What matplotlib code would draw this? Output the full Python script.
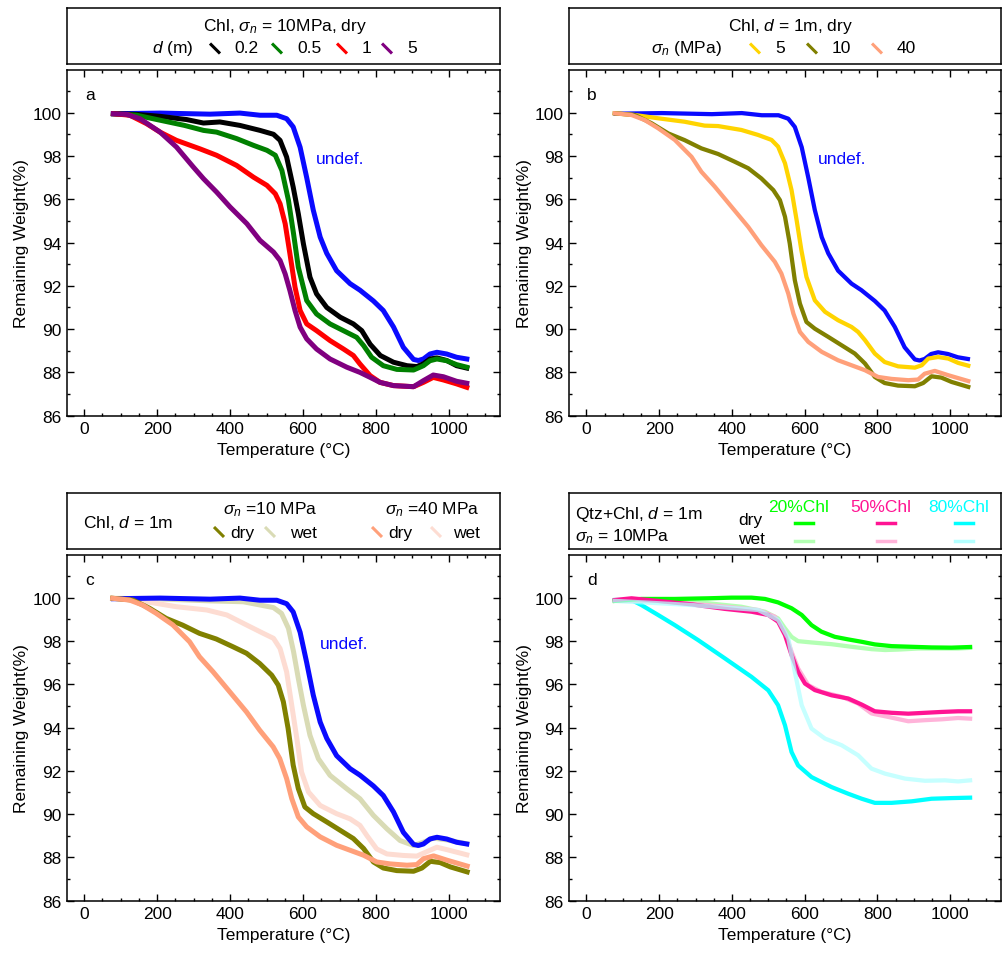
"""
TGA curves (remaining weight vs temperature) for chlorite gouges, four panels.
"""

import matplotlib
matplotlib.use("Agg")
import matplotlib.pyplot as plt
from matplotlib.ticker import MultipleLocator

plt.rcParams['font.family'] = ['Liberation Sans', 'DejaVu Sans']
plt.rcParams['mathtext.fontset'] = 'custom'
plt.rcParams['mathtext.rm'] = 'Liberation Sans'
plt.rcParams['mathtext.it'] = 'Liberation Sans:italic'
plt.rcParams['font.size'] = 12.5
plt.rcParams['lines.solid_joinstyle'] = 'round'

# --- data (temperature in C, weight in %) ---
t_undef = [80, 208, 345, 427, 482, 528, 555, 573, 592, 610, 628, 647, 665, 692, 729, 756,
           793, 820, 848, 875, 903, 916, 930, 948, 967, 994, 1021, 1049]
w_undef = [99.95, 99.98, 99.93, 99.98, 99.88, 99.88, 99.72, 99.34, 98.4, 97.0, 95.5, 94.25,
           93.5, 92.7, 92.1, 91.8, 91.3, 90.86, 90.1, 89.16, 88.6, 88.55, 88.62, 88.85,
           88.93, 88.85, 88.7, 88.62]

# panel a: d = 0.2, 0.5, 1, 5 m
t_d02 = [80, 144, 208, 281, 327, 372, 427, 482, 519, 537, 555, 573, 587, 601, 619, 637, 665,
         702, 738, 761, 784, 812, 848, 885, 912, 930, 948, 967, 994, 1021, 1049]
w_d02 = [99.95, 99.92, 99.83, 99.68, 99.52, 99.57, 99.41, 99.18, 99.0, 98.72, 97.95, 96.56,
         95.33, 93.94, 92.4, 91.63, 91.0, 90.55, 90.24, 89.93, 89.3, 88.78, 88.47, 88.31,
         88.27, 88.4, 88.62, 88.67, 88.55, 88.31, 88.2]
t_d05 = [80, 144, 208, 275, 327, 363, 418, 464, 501, 524, 542, 560, 574, 587, 610, 637, 674,
         720, 747, 766, 788, 820, 857, 903, 930, 948, 967, 994, 1021, 1049]
w_d05 = [99.95, 99.88, 99.65, 99.41, 99.18, 99.1, 98.8, 98.49, 98.26, 98.03, 97.33, 95.95,
         94.4, 92.86, 91.32, 90.7, 90.24, 89.85, 89.62, 89.24, 88.7, 88.31, 88.14, 88.11,
         88.31, 88.54, 88.62, 88.54, 88.36, 88.24]
t_d1 = [80, 125, 171, 208, 253, 317, 363, 418, 464, 501, 524, 537, 551, 564, 578, 592, 610,
        637, 674, 711, 738, 756, 784, 811, 848, 903, 930, 957, 985, 1021, 1049]
w_d1 = [99.95, 99.88, 99.49, 99.1, 98.72, 98.33, 98.03, 97.56, 97.02, 96.64, 96.25, 95.79,
        94.87, 93.48, 91.94, 90.86, 90.24, 89.93, 89.47, 89.08, 88.78, 88.39, 87.85, 87.54,
        87.39, 87.34, 87.54, 87.77, 87.65, 87.47, 87.31]
t_d5 = [80, 116, 153, 208, 253, 299, 327, 363, 400, 446, 482, 519, 537, 551, 564, 578, 592,
        610, 637, 674, 720, 756, 784, 811, 848, 903, 930, 957, 985, 1021, 1049]
w_d5 = [99.95, 99.92, 99.72, 99.1, 98.41, 97.49, 96.95, 96.33, 95.64, 94.87, 94.1, 93.56,
        93.17, 92.55, 91.78, 90.86, 90.09, 89.55, 89.08, 88.62, 88.24, 88.0, 87.77, 87.54,
        87.39, 87.34, 87.62, 87.88, 87.8, 87.59, 87.5]

# panel b: sigma_n = 5, 10, 40 MPa (dry, d = 1 m)
t_s5 = [78, 133, 197, 270, 325, 362, 426, 472, 509, 527, 546, 564, 578, 591, 605, 628, 656,
        692, 729, 747, 766, 793, 820, 857, 903, 922, 940, 967, 995, 1022, 1050]
w_s5 = [99.97, 99.89, 99.74, 99.58, 99.4, 99.38, 99.2, 98.97, 98.74, 98.43, 97.66, 96.42,
        95.03, 93.65, 92.41, 91.33, 90.8, 90.41, 90.1, 89.87, 89.49, 88.87, 88.48, 88.28,
        88.22, 88.33, 88.64, 88.71, 88.64, 88.44, 88.31]
t_s10 = [78, 133, 179, 225, 270, 316, 362, 408, 445, 481, 514, 532, 546, 559, 573, 587, 605,
         628, 665, 702, 738, 766, 793, 820, 857, 903, 926, 949, 976, 1004, 1050]
w_s10 = [99.97, 99.89, 99.51, 99.04, 98.73, 98.35, 98.09, 97.73, 97.43, 96.96, 96.42, 95.96,
         95.19, 93.96, 92.26, 91.18, 90.33, 90.02, 89.64, 89.25, 88.87, 88.41, 87.79, 87.51,
         87.39, 87.36, 87.51, 87.82, 87.76, 87.56, 87.33]
t_s40 = [78, 124, 160, 197, 243, 289, 316, 353, 399, 445, 481, 518, 536, 555, 569, 587, 610,
         647, 692, 729, 766, 802, 839, 885, 912, 930, 958, 995, 1050]
w_s40 = [99.97, 99.89, 99.66, 99.28, 98.74, 97.96, 97.27, 96.58, 95.65, 94.72, 93.88, 93.11,
         92.57, 91.64, 90.72, 89.87, 89.41, 88.95, 88.56, 88.33, 88.1, 87.79, 87.7, 87.64,
         87.67, 87.94, 88.07, 87.87, 87.6]

# panel c: wet samples
t_s10_wet = [80, 208, 345, 436, 482, 519, 541, 560, 574, 587, 601, 619, 642, 674, 720, 756,
             793, 830, 866, 903, 930, 957, 994, 1049]
w_s10_wet = [99.97, 99.94, 99.85, 99.81, 99.66, 99.54, 99.27, 98.58, 97.5, 96.27, 95.03,
             93.64, 92.56, 91.79, 91.17, 90.71, 89.94, 89.32, 88.78, 88.55, 88.7, 88.89,
             88.81, 88.63]
t_s40_wet = [80, 171, 253, 336, 391, 446, 491, 519, 537, 555, 569, 583, 596, 615, 647, 692,
             729, 756, 775, 802, 830, 875, 912, 940, 967, 994, 1049]
w_s40_wet = [99.97, 99.81, 99.58, 99.43, 99.2, 98.73, 98.35, 98.12, 97.65, 96.57, 95.03,
             93.49, 91.94, 91.02, 90.4, 90.02, 89.78, 89.48, 89.01, 88.39, 88.16, 88.09,
             88.06, 88.27, 88.47, 88.36, 88.12]

# panel d: quartz + chlorite mixtures
t_c20 = [78, 151, 243, 335, 399, 454, 491, 527, 564, 592, 619, 646, 683, 720, 757, 793, 839,
         894, 949, 1004, 1055]
w_c20 = [99.85, 99.94, 99.94, 99.97, 100.0, 100.0, 99.94, 99.78, 99.51, 99.2, 98.73, 98.43,
         98.19, 98.07, 97.96, 97.84, 97.76, 97.73, 97.7, 97.69, 97.72]
t_c20_wet = [78, 197, 335, 426, 491, 527, 546, 564, 582, 619, 674, 729, 784, 821, 857, 912,
             967, 1022, 1055]
w_c20_wet = [99.85, 99.85, 99.74, 99.58, 99.35, 99.04, 98.58, 98.19, 97.99, 97.93, 97.85,
             97.73, 97.62, 97.58, 97.6, 97.65, 97.65, 97.65, 97.68]
t_c50 = [78, 124, 197, 289, 381, 454, 500, 527, 546, 564, 582, 601, 628, 674, 720, 757, 793,
         839, 885, 931, 977, 1022, 1055]
w_c50 = [99.89, 99.97, 99.85, 99.69, 99.48, 99.35, 99.2, 98.89, 98.27, 97.35, 96.57, 96.03,
         95.73, 95.49, 95.34, 95.06, 94.75, 94.68, 94.64, 94.68, 94.72, 94.75, 94.75]
t_c50_wet = [78, 197, 381, 472, 518, 546, 564, 582, 610, 646, 702, 747, 784, 830, 885, 931,
             977, 1022, 1055]
w_c50_wet = [99.85, 99.85, 99.58, 99.43, 99.12, 98.42, 97.5, 96.73, 95.96, 95.65, 95.42,
             95.11, 94.65, 94.49, 94.29, 94.34, 94.38, 94.44, 94.41]
t_c80 = [78, 124, 151, 197, 243, 307, 381, 454, 500, 527, 546, 564, 582, 619, 674, 720, 757,
         793, 839, 894, 949, 1004, 1055]
w_c80 = [99.89, 99.89, 99.66, 99.2, 98.73, 98.04, 97.19, 96.34, 95.72, 95.03, 94.1, 92.87,
         92.25, 91.71, 91.25, 90.94, 90.71, 90.52, 90.52, 90.59, 90.71, 90.74, 90.76]
t_c80_wet = [78, 289, 472, 527, 555, 573, 592, 619, 656, 702, 747, 784, 821, 876, 931, 986,
             1022, 1055]
w_c80_wet = [99.85, 99.66, 99.43, 98.97, 98.12, 96.57, 95.03, 93.95, 93.49, 93.18, 92.72,
             92.1, 91.87, 91.64, 91.54, 91.56, 91.51, 91.56]

W, H = 1002, 954
fig = plt.figure(figsize=(W / 100, H / 100), dpi=100)


def rect(left, top, right, bottom):
    # pixel box of the reference -> figure fraction
    return [left / W, 1 - bottom / H, (right - left) / W, (bottom - top) / H]


def tga_axes(left, top, right, bottom, letter):
    ax = fig.add_axes(rect(left, top, right, bottom))
    ax.set_xlim(-48, 1140)
    ax.set_ylim(86, 101.97)
    ax.xaxis.set_major_locator(MultipleLocator(200))
    ax.xaxis.set_minor_locator(MultipleLocator(50))
    ax.yaxis.set_major_locator(MultipleLocator(2))
    ax.yaxis.set_minor_locator(MultipleLocator(1))
    ax.tick_params(which='both', direction='in', top=True, right=True, width=1.0)
    ax.tick_params(which='major', length=5, pad=4, labelsize=12.5)
    ax.tick_params(which='minor', length=2.5)
    for s in ax.spines.values():
        s.set_linewidth(1.1)
    ax.set_xlabel('Temperature (°C)', fontsize=12.5, labelpad=4)
    ax.set_ylabel('Remaining Weight(%)', fontsize=12.5, labelpad=2)
    ax.text(0.042, 0.93, letter, transform=ax.transAxes, ha='left', va='center')
    return ax


def legend_box(left, top, right, bottom):
    # a framed box whose data coordinates are reference pixels
    ax = fig.add_axes(rect(left, top, right, bottom))
    ax.set_xlim(left, right)
    ax.set_ylim(bottom, top)
    ax.set_xticks([])
    ax.set_yticks([])
    for s in ax.spines.values():
        s.set_linewidth(1.1)
    return ax


def slash(ax, x, y, color):
    ax.plot([x - 5, x + 5], [y - 5, y + 5], color=color, lw=2.2, solid_capstyle='butt')


C_UNDEF = '#0a0aff'
C_OLIVE = '#808000'
C_SALMON = '#ffa07a'
LW = 3.6

# ---------------- panel a ----------------
ax = tga_axes(66.7, 71, 500, 416.7, 'a')
ax.plot(t_undef, w_undef, color=C_UNDEF, lw=LW)
ax.plot(t_d02, w_d02, color='black', lw=LW)
ax.plot(t_d05, w_d05, color='#008000', lw=LW)
ax.plot(t_d1, w_d1, color='#ff0000', lw=LW)
ax.plot(t_d5, w_d5, color='#800080', lw=LW)
ax.text(636, 97.87, 'undef.', color=C_UNDEF, va='center')

lg = legend_box(66.7, 9.3, 500, 65)
lg.text(285, 26.5, r'Chl, $\sigma_n$ = 10MPa, dry', ha='center', va='center')
lg.text(152, 48, r'$d$ (m)', ha='left', va='center')
for xs, lab, xl, col in [(215, '0.2', 234, 'black'), (277, '0.5', 297, '#008000'),
                         (342, '1', 362, '#ff0000'), (387, '5', 407, '#800080')]:
    slash(lg, xs, 49.5, col)
    lg.text(xl, 48, lab, ha='left', va='center')

# ---------------- panel b ----------------
ax = tga_axes(569, 71, 1001, 416.7, 'b')
ax.plot(t_undef, w_undef, color=C_UNDEF, lw=LW * 0.85)
ax.plot(t_s5, w_s5, color='#ffd400', lw=LW * 0.85)
ax.plot(t_s10, w_s10, color=C_OLIVE, lw=LW * 0.85)
ax.plot(t_s40, w_s40, color=C_SALMON, lw=LW * 0.85)
ax.text(636, 97.87, 'undef.', color=C_UNDEF, va='center')

lg = legend_box(569, 9.3, 1001, 65)
lg.text(791, 26.5, r'Chl, $d$ = 1m, dry', ha='center', va='center')
lg.text(651, 48, r'$\sigma_n$ (MPa)', ha='left', va='center')
for xs, lab, xl, col in [(755, '5', 775, '#ffd400'), (812, '10', 832, C_OLIVE),
                         (877, '40', 897, C_SALMON)]:
    slash(lg, xs, 49.5, col)
    lg.text(xl, 48, lab, ha='left', va='center')

# ---------------- panel c ----------------
ax = tga_axes(66.7, 556, 500, 901.7, 'c')
ax.plot(t_s10_wet, w_s10_wet, color='#d9dbb5', lw=LW)
ax.plot(t_s40_wet, w_s40_wet, color='#fddcd2', lw=LW)
ax.plot(t_undef, w_undef, color=C_UNDEF, lw=LW)
ax.plot(t_s10, w_s10, color=C_OLIVE, lw=LW)
ax.plot(t_s40, w_s40, color=C_SALMON, lw=LW)
ax.text(645, 97.89, 'undef.', color=C_UNDEF, va='center')

lg = legend_box(66.7, 494, 500, 549.5)
lg.text(83, 523, r'Chl, $d$ = 1m', ha='left', va='center')
lg.text(270, 510, r'$\sigma_n$ =10 MPa', ha='center', va='center')
lg.text(432, 510, r'$\sigma_n$ =40 MPa', ha='center', va='center')
for xs, lab, xl, col in [(219, 'dry', 230, C_OLIVE), (270, 'wet', 290, '#d9dbb5'),
                         (377, 'dry', 388, C_SALMON), (436, 'wet', 453, '#fddcd2')]:
    slash(lg, xs, 533, col)
    lg.text(xl, 534, lab, ha='left', va='center')

# ---------------- panel d ----------------
ax = tga_axes(569, 556, 1001, 901.7, 'd')
C20, C50, C80 = '#00ff00', '#ff1493', '#00ffff'
C20W, C50W, C80W = '#b3ffb3', '#ffb3d9', '#b3ffff'
ax.plot(t_c80, w_c80, color=C80, lw=LW * 0.85)
ax.plot(t_c20_wet, w_c20_wet, color=C20W, lw=LW * 0.85)
ax.plot(t_c50_wet, w_c50_wet, color=C50W, lw=LW * 0.85)
ax.plot(t_c20, w_c20, color=C20, lw=LW * 0.85)
ax.plot(t_c50, w_c50, color=C50, lw=LW * 0.85)
ax.plot(t_c80_wet, w_c80_wet, color=C80W, lw=LW * 0.85, alpha=0.75)

lg = legend_box(569, 494, 1001, 549.5)
lg.text(575, 515, r'Qtz+Chl, $d$ = 1m', ha='left', va='center')
lg.text(575, 537, r'$\sigma_n$ = 10MPa', ha='left', va='center')
lg.text(738, 521, 'dry', ha='left', va='center')
lg.text(738, 540, 'wet', ha='left', va='center')
for x0, lab, c, cw in [(768, '20%Chl', C20, C20W), (850, '50%Chl', C50, C50W),
                       (928, '80%Chl', C80, C80W)]:
    lg.text(x0, 508, lab, color=c, ha='left', va='center', clip_on=False)
    lg.plot([x0 + 27, x0 + 45], [524.3, 524.3], color=c, lw=2.5)
    lg.plot([x0 + 27, x0 + 45], [541.7, 541.7], color=cw, lw=2.5)

fig.savefig('out.png', dpi=100)
